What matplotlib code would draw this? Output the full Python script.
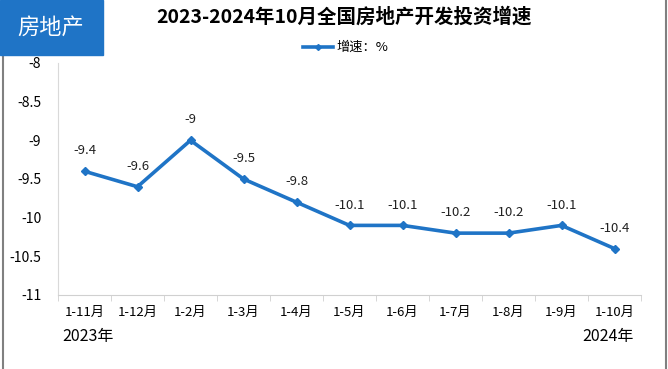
import matplotlib
matplotlib.use('Agg')
import matplotlib.pyplot as plt
from matplotlib.patches import Rectangle
from matplotlib.lines import Line2D

plt.rcParams['font.family'] = ['Noto Sans CJK SC', 'DejaVu Sans']

# data
months = ['1-11月', '1-12月', '1-2月', '1-3月', '1-4月', '1-5月',
          '1-6月', '1-7月', '1-8月', '1-9月', '1-10月']
growth = [-9.4, -9.6, -9.0, -9.5, -9.8, -10.1, -10.1, -10.2, -10.2, -10.1, -10.4]
yticks = [-8, -8.5, -9, -9.5, -10, -10.5, -11]

blue = '#1f74c6'
W, H = 668, 369
fig = plt.figure(figsize=(W / 100, H / 100), dpi=100)

# axes placed in pixel coordinates of the reference
x0, x1 = 58, 641
y_top, y_bot = 63, 295
ax = fig.add_axes([x0 / W, 1 - y_bot / H, (x1 - x0) / W, (y_bot - y_top) / H])

xs = list(range(len(months)))
ax.plot(xs, growth, color=blue, lw=2.6, marker='D', ms=4, zorder=3)
for x, v in zip(xs, growth):
    ax.annotate('%g' % v, (x, v), xytext=(0, 10), textcoords='offset points',
                ha='center', va='bottom', fontsize=9.5, color='#222222')

ax.set_xlim(-0.5, len(months) - 0.5)
ax.set_ylim(-11, -8)
ax.set_yticks(yticks)
ax.set_yticklabels(['%g' % t for t in yticks], fontsize=10)
ax.set_xticks(xs)
ax.set_xticklabels(months, fontsize=9.5)
ax.set_xticks([i - 0.5 for i in range(len(months) + 1)], minor=True)
ax.tick_params(axis='x', which='major', length=0, pad=8)
ax.tick_params(axis='x', which='minor', length=4, color='#d0d0d0', direction='out')
ax.tick_params(axis='y', length=0, pad=12)
for s in ['top', 'right']:
    ax.spines[s].set_visible(False)
ax.spines['left'].set_color('#d9d9d9')
ax.spines['bottom'].set_color('#d0d0d0')

# year labels under the first and last categories
fig.text(62 / W, 1 - 337 / H, '2023年', fontsize=11.5, ha='left', va='center')
fig.text(634 / W, 1 - 337 / H, '2024年', fontsize=11.5, ha='right', va='center')

# title and legend
fig.text(344 / W, 1 - 17 / H, '2023-2024年10月全国房地产开发投资增速',
         fontsize=14, fontweight='bold', ha='center', va='center')
fig.add_artist(Line2D([303 / W, 333 / W], [1 - 47 / H, 1 - 47 / H],
                      color=blue, lw=2.6))
fig.add_artist(Line2D([318 / W], [1 - 47 / H], color=blue, marker='D', ms=3))
fig.text(336 / W, 1 - 47 / H, '增速：%', fontsize=9.5, ha='left', va='center')

# blue tag in the corner
fig.add_artist(Rectangle((0, 1 - 55 / H), 103 / W, 55 / H, transform=fig.transFigure,
                         color=blue, zorder=5))
fig.text(51 / W, 1 - 27 / H, '房地产', fontsize=16, color='white',
         ha='center', va='center', zorder=6)

# grey frame lines
fig.add_artist(Line2D([2.5 / W, 2.5 / W], [0, 1 - 56 / H], color='#808080', lw=1.5))
fig.add_artist(Line2D([666 / W, 666 / W], [0, 1], color='#808080', lw=1.5))

fig.savefig('out.png', dpi=100)
